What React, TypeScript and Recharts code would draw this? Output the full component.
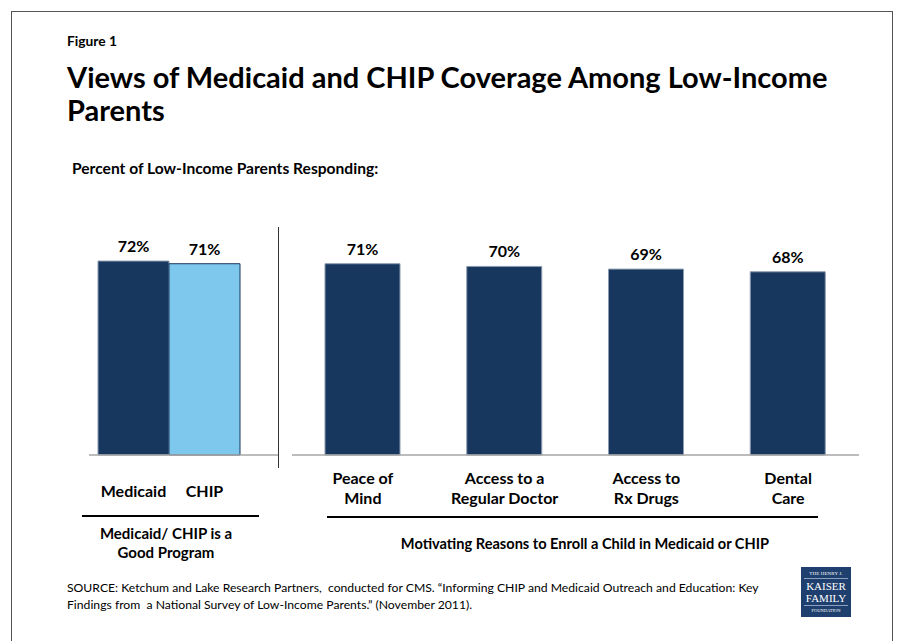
import React from "react";
import { BarChart, Bar, XAxis, YAxis, Cell, LabelList } from "recharts";

const leftCategories = ["Medicaid", "CHIP"];
const leftValues = [72, 71];
const rightCategories = ["Peace of\nMind", "Access to a\nRegular Doctor", "Access to\nRx Drugs", "Dental\nCare"];
const rightValues = [71, 70, 69, 68];

const DARK = "#17375e";
const LIGHT = "#7ec8ee";
const FONT = "Lato, 'Open Sans', sans-serif";

const leftData = leftCategories.map((name, i) => ({ name, value: leftValues[i] }));
const rightData = rightCategories.map((name, i) => ({ name, value: rightValues[i] }));

function SingleTick({ x, y, payload }: any) {
  return (
    <text x={x} y={y + 42} textAnchor="middle" fontFamily={FONT} fontWeight={700} fontSize={16} fill="#000">
      {payload.value}
    </text>
  );
}

function TwoLineTick({ x, y, payload }: any) {
  const lines = String(payload.value).split("\n");
  return (
    <text textAnchor="middle" fontFamily={FONT} fontWeight={700} fontSize={16} fill="#000">
      {lines.map((l, i) => (
        <tspan key={i} x={x} y={y + 29 + i * 20}>
          {l}
        </tspan>
      ))}
    </text>
  );
}

const labelProps = {
  position: "top" as const,
  offset: 9,
  formatter: (v: any) => `${v}%`,
  fill: "#000",
  fontFamily: FONT,
  fontWeight: 700,
  fontSize: 16,
};

const abs = (left: number, top: number, extra: React.CSSProperties = {}): React.CSSProperties => ({
  position: "absolute",
  left,
  top,
  ...extra,
});

export default function App() {
  return (
    <div style={{ position: "absolute", left: 0, top: 0, width: 897, height: 641, overflow: "hidden", background: "#fff", fontFamily: FONT }}>
      {/* frame */}
      <div style={abs(11, 11, { width: 882, height: 700, border: "1.5px solid #555", boxSizing: "border-box" })} />

      <div style={abs(67, 33, { fontSize: 13.8, fontWeight: 700, lineHeight: "16px" })}>Figure 1</div>
      <div style={abs(67, 61, { fontSize: 29, fontWeight: 700, lineHeight: "32.5px", whiteSpace: "nowrap" })}>
        Views of Medicaid and CHIP Coverage Among Low-Income
        <br />
        Parents
      </div>
      <div style={abs(72, 158, { fontSize: 15.6, fontWeight: 700, lineHeight: "20px", whiteSpace: "nowrap" })}>
        Percent of Low-Income Parents Responding:
      </div>

      {/* left group */}
      <div style={abs(89, 150)}>
        <BarChart width={190} height={370} data={leftData} margin={{ top: 35.6, right: 0, left: 0, bottom: 5 }} barCategoryGap={0}>
          <YAxis hide domain={[0, 100]} />
          <XAxis
            dataKey="name"
            height={60}
            padding={{ left: 9, right: 39 }}
            axisLine={{ stroke: "#a6a6a6", strokeWidth: 1.5 }}
            tickLine={false}
            tickSize={0}
            tickMargin={0}
            tick={<SingleTick />}
            interval={0}
          />
          <Bar dataKey="value" isAnimationActive={false}>
            {leftData.map((d, i) => (
              <Cell key={d.name} fill={i === 0 ? DARK : LIGHT} stroke={i === 0 ? "#8c9bb0" : DARK} strokeWidth={1} />
            ))}
            <LabelList dataKey="value" {...labelProps} />
          </Bar>
        </BarChart>
      </div>

      {/* divider */}
      <div style={abs(278, 227, { width: 1, height: 241, background: "#333" })} />

      {/* right group */}
      <div style={abs(292, 150)}>
        <BarChart width={567} height={370} data={rightData} margin={{ top: 35.6, right: 0, left: 0, bottom: 5 }}>
          <YAxis hide domain={[0, 100]} />
          <XAxis
            dataKey="name"
            height={60}
            axisLine={{ stroke: "#a6a6a6", strokeWidth: 1.5 }}
            tickLine={false}
            tickSize={0}
            tickMargin={0}
            tick={<TwoLineTick />}
            interval={0}
          />
          <Bar dataKey="value" fill={DARK} stroke="#8c9bb0" strokeWidth={1} barSize={75} isAnimationActive={false}>
            <LabelList dataKey="value" {...labelProps} />
          </Bar>
        </BarChart>
      </div>

      {/* group rules */}
      <div style={abs(82, 515, { width: 177, height: 1.5, background: "#000" })} />
      <div style={abs(327, 516, { width: 491, height: 1.5, background: "#000" })} />

      <div style={abs(16, 524, { width: 300, textAlign: "center", fontSize: 15, fontWeight: 700, lineHeight: "19px" })}>
        Medicaid/ CHIP is a
        <br />
        Good Program
      </div>
      <div style={abs(385, 534, { width: 400, textAlign: "center", fontSize: 14.6, fontWeight: 700, lineHeight: "20px", whiteSpace: "nowrap" })}>
        Motivating Reasons to Enroll a Child in Medicaid or CHIP
      </div>

      <div style={abs(67, 580, { fontSize: 12.2, lineHeight: "16.5px", whiteSpace: "pre" })}>
        {"SOURCE: Ketchum and Lake Research Partners,  conducted for CMS. \u201cInforming CHIP and Medicaid Outreach and Education: Key"}
        <br />
        {"Findings from  a National Survey of Low-Income Parents.\u201d (November 2011)."}
      </div>

      {/* logo */}
      <div
        style={abs(801, 567, {
          width: 50,
          height: 50,
          background: "#1f3f6e",
          color: "#fff",
          fontFamily: "'Liberation Serif', 'DejaVu Serif', serif",
          textAlign: "center",
          boxSizing: "border-box",
          paddingTop: 3,
          overflow: "hidden",
        })}
      >
        <div style={{ fontSize: 5, lineHeight: "7px", letterSpacing: 0.1, whiteSpace: "nowrap" }}>THE HENRY J.</div>
        <div style={{ height: 1, background: "#8aa0c0", margin: "1px 3px" }} />
        <div style={{ fontSize: 11, lineHeight: "12px", whiteSpace: "nowrap" }}>KAISER</div>
        <div style={{ fontSize: 11, lineHeight: "12px", whiteSpace: "nowrap" }}>FAMILY</div>
        <div style={{ height: 1, background: "#8aa0c0", margin: "1px 3px" }} />
        <div style={{ fontSize: 4.5, lineHeight: "7px", whiteSpace: "nowrap" }}>FOUNDATION</div>
      </div>
    </div>
  );
}
